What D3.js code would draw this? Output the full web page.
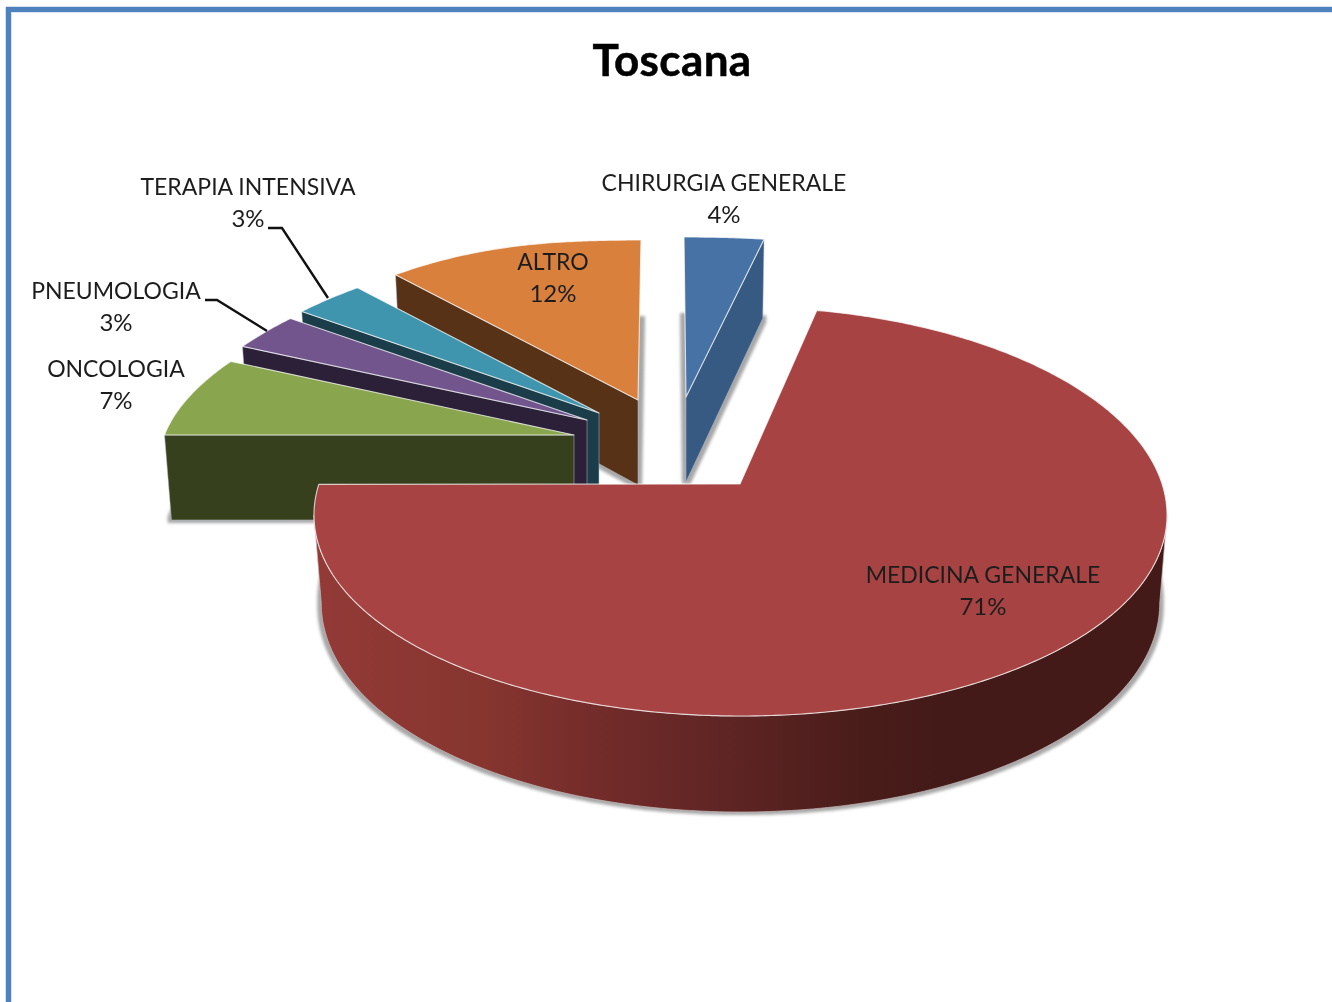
<!DOCTYPE html>
<html><head><meta charset="utf-8">
<script src="https://cdn.jsdelivr.net/npm/d3@7/dist/d3.min.js"></script>
<style>html,body{margin:0;padding:0;background:#fff;overflow:hidden}svg{display:block}text{font-family:Lato,"Open Sans",sans-serif}</style>
</head><body><div id="chart"></div>
<script>
// ---- data
const categories = ["CHIRURGIA GENERALE","MEDICINA GENERALE","ONCOLOGIA","PNEUMOLOGIA","TERAPIA INTENSIVA","ALTRO"];
const values = [4,71,7,3,3,12];
const title = "Toscana";
// ---- style
const topColors  = ["#4672a6","#a74342","#89a54e","#71558c","#3f95ae","#d8803c"];
const wallColors = ["#375a83","#8f3835","#37401c","#2b2038","#1b3d49","#573216"];
// ---- layout
const W=1332,H=1002;
const pieCenter=[740,484];
const explode=[[-54,-87],[0,0],[-166,-49],[-153,-64],[-141,-71],[-102,-84]];
const shear=[2,0,0,0,0,-3];
const radius=[409.5,0,409.5,411,412,414];
const drawOrder=[0,5,4,3,2,1];
const labelPos=[[724,191],[983,583],[116,377],[116,299],[248,195],[553,270]];
const leaders=[null,null,null,[[205,300],[217,300],[267,331]],[[268,228],[282,228],[328,298]],null];
const baseShrink=.983;
// the large slice is seen as an ellipse of its own, off the apex
const ell={cx:740.5,cy:515,rx:426.5};
const bigAngle=d3.scaleLinear().domain([14.4,270].map(d=>d*Math.PI/180)).range([10.3,278.6].map(d=>d*Math.PI/180));
const widthOf=v=>1+.16*v+.07*v*v*v;
const heightOf=v=>173*v-13*Math.pow(v,9);
const depthOf=d3.scaleLinear().domain([-1,0]).range([79,85]);

const svg=d3.select("#chart").append("svg").attr("width",W).attr("height",H);
const defs=svg.append("defs");
const blur=defs.append("filter").attr("id","shadow").attr("x","-20%").attr("y","-20%").attr("width","140%").attr("height","140%");
blur.append("feMorphology").attr("operator","dilate").attr("radius","4 2.5");
blur.append("feGaussianBlur").attr("stdDeviation",1.5);
const soft=defs.append("filter").attr("id","soft").attr("x","-5%").attr("y","-20%").attr("width","110%").attr("height","140%");
soft.append("feGaussianBlur").attr("stdDeviation",.35);
const grad=defs.append("linearGradient").attr("id","rim").attr("gradientUnits","userSpaceOnUse")
  .attr("x1",315).attr("x2",1167).attr("y1",0).attr("y2",0);
[[0,"#933a37"],[.2,"#86352f"],[.33,"#732c2a"],[.5,"#5c2423"],[.65,"#481c19"],[.75,"#431a18"],[1,"#431a18"]]
  .forEach(([o,c])=>grad.append("stop").attr("offset",o).attr("stop-color",c));

// frame
svg.append("path").attr("d",`M${W} 9.5H8.5V${H}`).attr("fill","none").attr("stroke","#4f81bd").attr("stroke-width",5.5);
svg.append("path").attr("d",`M${W} 12.5H11.5V${H}`).attr("fill","none").attr("stroke","#dce6f2").attr("stroke-width",1);

const arcs=d3.pie().sort(null)(values);
const line=d3.line();

function ellipsePoint(t,base){
  const u=Math.sin(t),v=-Math.cos(t);
  const ry=204.5-3.5*v;
  return [ell.cx+ell.rx*u*(base?baseShrink:1), ell.cy+ry*v+(base?88+8*v:0)];
}
function proj(i,a,base){
  if(i===1) return ellipsePoint(bigAngle(a),base);
  const u=Math.sin(a),v=-Math.cos(a);
  const ax=pieCenter[0]+explode[i][0],ay=pieCenter[1]+explode[i][1];
  let dx=radius[i]*u*widthOf(v)+shear[i]*Math.pow(v,9),dy=heightOf(v);
  if(base){dx*=baseShrink;dy+=depthOf(v);}
  return [ax+dx,ay+dy];
}
function apex(i,base){
  return [pieCenter[0]+explode[i][0],pieCenter[1]+explode[i][1]+(base?85:0)];
}
function rim(i,a0,a1,base){
  const n=Math.max(2,Math.ceil((a1-a0)/.01));
  return d3.range(n+1).map(k=>proj(i,a0+(a1-a0)*k/n,base));
}
const close=p=>line(p)+"Z";

// shadows: the underside of every slice
const gShadow=svg.append("g").attr("filter","url(#shadow)").attr("opacity",.75);
arcs.forEach((d,i)=>{
  gShadow.append("path").attr("fill","#8a8a8a")
    .attr("d",close([apex(i,true),...rim(i,d.startAngle,d.endAngle,true)]));
});

const gPie=svg.append("g");
drawOrder.forEach(i=>{
  const d=arcs[i];
  const g=gPie.append("g").attr("class","slice");
  if(i===1){
    const ts=d3.range(0,181,1).map(k=>(90+k)*Math.PI/180);
    const top=ts.map(t=>ellipsePoint(t,false)),bot=ts.map(t=>ellipsePoint(t,true)).reverse();
    g.append("path").attr("d",close([...top,...bot])).attr("fill","url(#rim)").attr("stroke","#c9bcbc").attr("stroke-width",.7);
  }else{
    const a=i===0?d.endAngle:d.startAngle;
    g.append("path").attr("fill",wallColors[i]).attr("stroke","#b8bfc6").attr("stroke-width",.5)
      .attr("d",close([apex(i,false),proj(i,a,false),proj(i,a,true),apex(i,true)]));
  }
  g.append("path").attr("fill",topColors[i]).attr("stroke","#fff").attr("stroke-opacity",.72).attr("stroke-width",1.15)
    .attr("stroke-linejoin","round")
    .attr("d",close([apex(i,false),...rim(i,d.startAngle,d.endAngle,false)]));
});

// leaders
leaders.forEach(l=>{ if(l) svg.append("path").attr("d",line(l)).attr("fill","none").attr("stroke","#111").attr("stroke-width",2.4); });

// labels
const gText=svg.append("g").attr("filter","url(#soft)").attr("fill","#1f1f1f").attr("text-anchor","middle");
const total=d3.sum(values),fmt=d3.format(".0%");
categories.forEach((c,i)=>{
  gText.append("text").attr("x",labelPos[i][0]).attr("y",labelPos[i][1]).attr("font-size",23).text(c);
  gText.append("text").attr("x",labelPos[i][0]).attr("y",labelPos[i][1]+32).attr("font-size",24).text(fmt(values[i]/total));
});
gText.append("text").attr("x",672).attr("y",76).attr("font-size",44).attr("letter-spacing",.4).attr("font-weight",700)
  .attr("fill","#000").attr("stroke","#000").attr("stroke-width",.5).text(title);
</script></body></html>
